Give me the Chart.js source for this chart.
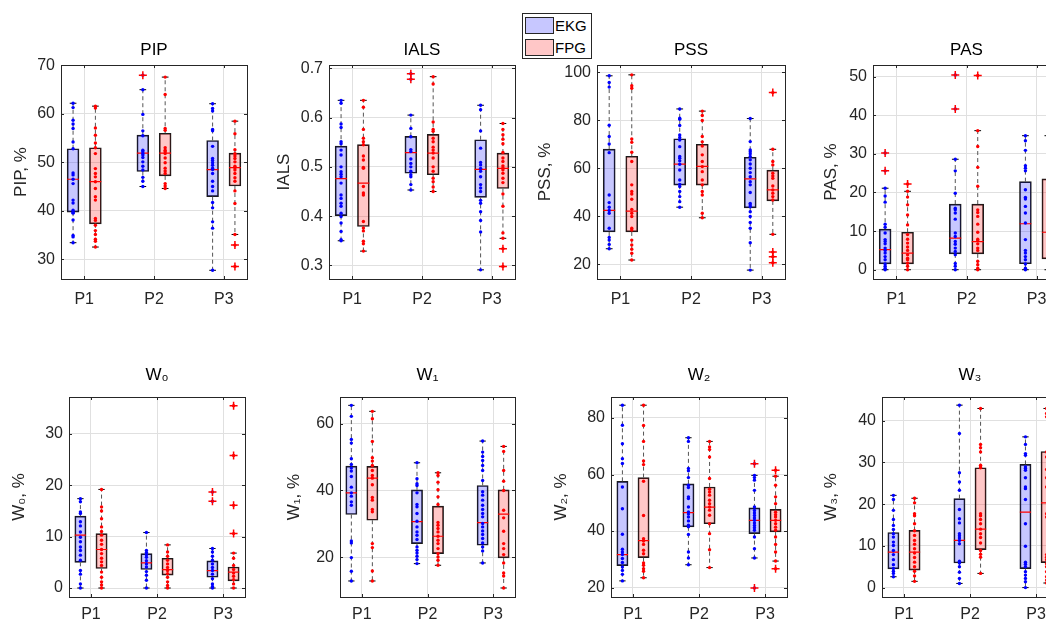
<!DOCTYPE html>
<html>
<head>
<meta charset="utf-8">
<script src="https://cdn.jsdelivr.net/npm/chart.js"></script>
<style>
  body { margin: 0; width: 1046px; height: 619px; overflow: hidden; background: #fff; position: relative;
         font-family: "Liberation Sans", Arial, sans-serif; }
  canvas { position: absolute; }
  #legend { position: absolute; left: 522px; top: 13px; width: 68px; height: 44px; border: 1px solid #262626; background: #fff; z-index: 2; }
  #legend .patch { position: absolute; left: 2px; width: 27px; height: 15px; border: 1px solid #262626; }
  #legend .label { position: absolute; left: 32px; font-size: 15px; line-height: 17px; color: #000; }
</style>
</head>
<body>
<div id="legend">
  <span class="patch" style="top:3px; background:rgba(0,0,255,0.22)"></span><span class="label" style="top:3px">EKG</span>
  <span class="patch" style="top:25px; background:rgba(255,0,0,0.22)"></span><span class="label" style="top:25px">FPG</span>
</div>
<script>
const categories = ['P1', 'P2', 'P3'];

// box stats per period: [lower whisker, Q1, median, Q3, upper whisker]
// PIP
const pipTicks = [30, 40, 50, 60, 70];
const pipEkgBox = [[33.4, 39.7, 46.5, 52.8, 62.2], [45.0, 48.1, 51.9, 55.6, 65.0], [27.7, 42.9, 48.5, 54.5, 62.1]];
const pipEkgOut = [[], [68.0], []];
const pipEkgPts = [
  [62.2, 61.3, 58.7, 57.9, 57.0, 54.2, 52.8, 47.8, 47.4, 46.5, 45.6, 42.2, 41.6, 40.1, 39.7, 39.5, 38.1, 34.9, 34.6, 33.4],
  [68.0, 65.0, 59.9, 56.5, 55.5, 52.5, 52.2, 51.8, 51.5, 51.0, 50.1, 49.2, 48.4, 46.9, 46.1, 45.0],
  [62.1, 61.1, 60.6, 56.8, 56.5, 53.3, 50.8, 50.4, 49.9, 49.4, 48.8, 48.5, 47.7, 46.1, 45.0, 44.1, 41.7, 40.6, 37.7, 36.4, 27.7]];
const pipFpgBox = [[32.5, 37.3, 46.0, 53.0, 61.6], [44.6, 47.2, 51.9, 56.0, 67.6], [35.1, 45.1, 48.9, 51.9, 58.5]];
const pipFpgOut = [[], [], [32.9, 28.5]];
const pipFpgPts = [
  [61.6, 61.2, 57.1, 55.6, 54.0, 53.0, 51.8, 48.7, 47.7, 47.0, 46.0, 44.6, 42.9, 42.2, 38.4, 38.0, 37.0, 35.9, 35.1, 34.1, 33.7, 32.5],
  [67.6, 64.0, 57.0, 56.6, 53.0, 52.5, 52.2, 51.8, 50.9, 49.9, 48.8, 48.2, 47.7, 45.6, 45.1, 44.6],
  [58.5, 55.9, 52.6, 51.8, 51.3, 50.8, 50.1, 49.2, 48.9, 48.4, 47.7, 46.8, 46.1, 44.1, 41.5, 35.1, 32.9, 28.5]];

// IALS
const ialsTicks = [0.3, 0.4, 0.5, 0.6, 0.7];
const ialsEkgBox = [[0.350, 0.401, 0.476, 0.542, 0.635], [0.453, 0.487, 0.529, 0.562, 0.605], [0.291, 0.438, 0.495, 0.555, 0.625]];
const ialsEkgOut = [[], [0.689, 0.678], []];
const ialsEkgPts = [
  [0.635, 0.629, 0.587, 0.580, 0.551, 0.547, 0.534, 0.524, 0.500, 0.490, 0.485, 0.480, 0.467, 0.443, 0.436, 0.426, 0.420, 0.406, 0.399, 0.386, 0.369, 0.352, 0.350],
  [0.689, 0.678, 0.605, 0.578, 0.561, 0.535, 0.531, 0.516, 0.507, 0.500, 0.491, 0.484, 0.480, 0.464, 0.453],
  [0.625, 0.616, 0.573, 0.538, 0.509, 0.504, 0.497, 0.491, 0.480, 0.464, 0.457, 0.450, 0.432, 0.426, 0.409, 0.391, 0.368, 0.291]];
const ialsFpgBox = [[0.329, 0.379, 0.467, 0.545, 0.635], [0.450, 0.484, 0.528, 0.566, 0.683], [0.355, 0.456, 0.497, 0.528, 0.588]];
const ialsFpgOut = [[], [], [0.334, 0.298]];
const ialsFpgPts = [
  [0.635, 0.621, 0.576, 0.558, 0.551, 0.545, 0.522, 0.514, 0.499, 0.497, 0.460, 0.447, 0.443, 0.389, 0.376, 0.370, 0.349, 0.344, 0.329],
  [0.683, 0.668, 0.591, 0.576, 0.572, 0.558, 0.551, 0.540, 0.534, 0.528, 0.518, 0.500, 0.491, 0.477, 0.470, 0.459, 0.450],
  [0.588, 0.576, 0.565, 0.556, 0.547, 0.529, 0.518, 0.511, 0.502, 0.498, 0.494, 0.487, 0.477, 0.468, 0.445, 0.420, 0.366, 0.355, 0.334, 0.298]];

// PSS
const pssTicks = [20, 40, 60, 80, 100];
const pssEkgBox = [[26.5, 33.5, 42.5, 68.0, 98.5], [43.8, 53.0, 61.7, 72.3, 84.7], [17.6, 43.5, 55.6, 64.6, 80.7]];
const pssEkgOut = [[], [], []];
const pssEkgPts = [
  [98.5, 95.7, 93.8, 77.9, 73.2, 70.1, 66.5, 48.9, 45.7, 43.8, 42.4, 41.3, 35.0, 31.2, 30.1, 28.3, 26.5],
  [84.7, 80.8, 80.4, 77.8, 73.9, 72.8, 71.8, 69.0, 64.9, 64.2, 63.1, 61.7, 59.3, 55.1, 53.3, 52.4, 50.3, 48.2, 46.1, 43.8],
  [80.7, 71.1, 67.6, 66.9, 66.0, 64.9, 63.5, 61.8, 60.0, 58.2, 56.5, 54.4, 53.1, 49.9, 45.4, 44.7, 44.0, 41.9, 39.9, 37.4, 35.0, 29.0, 17.6]];
const pssFpgBox = [[21.8, 33.5, 42.2, 65.0, 98.9], [39.4, 53.0, 60.8, 70.0, 83.8], [32.5, 46.4, 51.0, 59.2, 67.9]];
const pssFpgOut = [[], [], [91.5, 25.1, 23.2, 20.7]];
const pssFpgPts = [
  [98.9, 94.4, 93.3, 72.2, 70.8, 66.7, 62.8, 53.1, 50.3, 49.3, 47.1, 42.9, 41.3, 39.9, 35.0, 34.3, 30.1, 28.1, 26.3, 24.6, 21.8],
  [83.8, 82.0, 79.9, 73.2, 71.0, 69.3, 65.6, 62.8, 60.7, 58.6, 55.1, 53.1, 50.3, 48.9, 41.3, 39.4],
  [91.5, 67.9, 62.8, 61.4, 57.9, 56.8, 55.8, 52.6, 51.0, 49.6, 48.2, 46.8, 32.5, 25.1, 23.2, 20.7]];

// PAS
const pasTicks = [0, 10, 20, 30, 40, 50];
const pasEkgBox = [[0, 1.5, 5.2, 10.5, 21.1], [0, 4.1, 8.2, 17.0, 28.6], [0, 1.55, 11.9, 22.8, 34.7]];
const pasEkgOut = [[30.2, 25.6], [50.4, 41.6], []];
const pasEkgPts = [
  [30.2, 25.6, 21.1, 19.1, 17.5, 11.8, 11.0, 9.5, 7.8, 7.3, 6.7, 5.6, 5.0, 4.3, 3.4, 2.6, 1.5, 0.9, 0.4, 0],
  [50.4, 41.6, 28.6, 25.6, 19.8, 15.9, 15.5, 14.7, 13.1, 9.5, 8.6, 7.3, 6.6, 5.6, 4.7, 3.9, 1.6, 0.9, 0],
  [34.7, 33.4, 30.9, 26.9, 26.3, 25.6, 20.7, 18.7, 18.3, 16.4, 14.7, 12.1, 7.8, 5.0, 4.3, 3.4, 2.6, 1.5, 0.4, 0]];
const pasFpgBox = [[0, 1.5, 4.3, 9.7, 20.3], [0, 4.1, 7.3, 17.0, 36.0], [0, 2.8, 9.7, 23.5, 34.7]];
const pasFpgOut = [[22.2], [50.3], []];
const pasFpgPts = [
  [22.2, 20.3, 18.8, 16.8, 14.2, 11.6, 9.1, 7.9, 6.9, 5.9, 5.0, 3.9, 3.0, 2.6, 1.7, 0.9, 0],
  [50.3, 36.0, 31.9, 26.5, 21.6, 15.5, 14.8, 13.8, 11.8, 9.7, 7.9, 7.5, 6.7, 5.6, 5.0, 2.2, 1.3, 0.4, 0],
  [34.7, 32.8, 31.7, 27.4, 25.9, 24.1, 22.4, 20.7, 17.7, 10.8, 9.9, 8.6, 7.3, 4.9, 4.3, 3.4, 2.2, 0.9, 0]];

// W0
const w0Ticks = [0, 10, 20, 30];
const w0EkgBox = [[0, 5.0, 10.3, 14.0, 17.4], [0, 3.6, 4.9, 6.7, 10.8], [0, 2.1, 3.4, 5.3, 7.7]];
const w0EkgOut = [[], [], [18.7, 16.9]];
const w0EkgPts = [
  [17.4, 16.8, 14.8, 14.5, 12.9, 12.1, 10.9, 9.9, 9.0, 8.0, 7.3, 6.4, 5.4, 3.4, 2.7, 0.8, 0],
  [10.8, 7.3, 6.9, 6.5, 6.0, 5.3, 4.7, 4.1, 3.2, 2.5, 1.5, 0],
  [18.7, 16.9, 7.7, 7.0, 6.2, 5.4, 4.7, 4.0, 3.4, 2.7, 1.8, 0.8, 0.3, 0]];
const w0FpgBox = [[0, 3.8, 7.5, 10.6, 19.2], [0, 2.5, 3.6, 5.8, 8.4], [0, 1.4, 3.1, 4.1, 6.8]];
const w0FpgOut = [[], [], [35.5, 25.8, 16.1, 10.6]];
const w0FpgPts = [
  [19.2, 15.8, 15.0, 13.5, 11.9, 11.0, 10.3, 9.3, 8.5, 7.5, 6.7, 5.8, 5.1, 4.4, 3.1, 2.1, 1.2, 0.6, 0],
  [8.4, 7.0, 6.2, 5.4, 4.7, 4.0, 3.4, 2.8, 2.1, 1.2, 0.5, 0],
  [35.5, 25.8, 16.1, 10.6, 6.8, 5.8, 4.4, 3.6, 2.9, 2.3, 1.6, 0.8, 0]];

// W1
const w1Ticks = [20, 40, 60];
const w1EkgBox = [[12.9, 32.8, 39.3, 47.3, 65.5], [18.1, 24.1, 30.7, 40.2, 48.3], [18.3, 23.6, 30.4, 41.5, 54.8]];
const w1EkgOut = [[], [], []];
const w1EkgPts = [
  [65.5, 62.2, 55.3, 54.2, 49.5, 47.8, 46.7, 45.8, 44.2, 41.0, 39.3, 38.3, 36.6, 35.6, 24.9, 24.3, 19.9, 15.8, 12.9],
  [48.3, 43.5, 42.0, 41.5, 39.3, 35.8, 35.1, 33.1, 30.8, 29.1, 27.6, 26.6, 25.3, 23.1, 22.1, 21.3, 20.3, 19.3, 18.1],
  [54.8, 51.5, 50.2, 49.0, 47.5, 46.0, 43.0, 39.6, 38.6, 37.1, 35.6, 34.3, 33.1, 32.1, 30.1, 29.1, 27.9, 26.8, 25.6, 24.3, 23.1, 21.9, 18.3]];
const w1FpgBox = [[12.9, 31.1, 43.7, 47.2, 63.7], [17.6, 21.1, 26.3, 35.3, 45.3], [10.8, 19.8, 32.9, 40.2, 53.2]];
const w1FpgOut = [[], [], []];
const w1FpgPts = [
  [63.7, 61.5, 54.7, 49.8, 48.8, 47.5, 46.0, 44.5, 43.7, 41.7, 37.9, 37.1, 34.3, 33.6, 24.1, 22.9, 15.9, 12.9],
  [45.3, 44.5, 42.5, 40.2, 38.1, 35.8, 30.4, 29.6, 28.6, 27.6, 26.3, 25.1, 24.1, 22.6, 21.1, 20.1, 19.1, 17.6],
  [53.2, 51.7, 46.0, 42.8, 40.0, 34.1, 31.8, 27.8, 24.1, 22.6, 20.8, 18.3, 15.3, 14.4, 10.8]];

// W2
const w2Ticks = [20, 40, 60, 80];
const w2EkgBox = [[22.4, 27.8, 31.7, 57.6, 84.5], [28.1, 41.5, 46.5, 56.7, 73.0], [30.5, 39.1, 43.8, 48.2, 59.7]];
const w2EkgOut = [[], [], [63.8, 19.9]];
const w2EkgPts = [
  [84.5, 77.4, 70.9, 65.6, 63.9, 55.6, 47.9, 38.9, 33.6, 32.6, 31.7, 30.3, 28.9, 27.3, 26.1, 24.7, 22.4],
  [73.0, 71.7, 62.1, 61.3, 58.9, 56.2, 55.4, 52.1, 51.5, 48.5, 46.8, 46.0, 45.0, 43.6, 42.1, 41.5, 38.8, 32.6, 30.5, 28.1],
  [63.8, 59.7, 58.9, 58.0, 54.4, 48.5, 47.3, 46.4, 45.5, 44.6, 43.8, 42.9, 42.0, 41.2, 40.3, 37.9, 33.8, 30.5, 19.9]];
const w2FpgBox = [[23.5, 30.6, 36.6, 58.9, 84.5], [27.1, 42.6, 48.5, 55.6, 71.7], [29.4, 39.7, 43.8, 47.7, 59.4]];
const w2FpgOut = [[], [], [61.5, 26.7]];
const w2FpgPts = [
  [84.5, 77.3, 71.7, 64.8, 63.5, 57.6, 45.5, 37.3, 36.5, 35.3, 33.2, 32.0, 28.7, 27.9, 26.7, 25.8, 23.5],
  [71.7, 69.7, 68.8, 66.2, 58.6, 54.8, 53.8, 52.7, 50.9, 49.7, 48.5, 47.4, 45.6, 42.6, 39.1, 33.4, 27.1],
  [61.5, 59.4, 56.2, 52.1, 49.7, 46.7, 45.8, 45.0, 43.8, 42.6, 41.4, 40.3, 37.9, 35.3, 32.6, 29.4, 26.7]];

// W3
const w3Ticks = [0, 10, 20, 30, 40];
const w3EkgBox = [[2.6, 4.5, 8.5, 13.2, 22.1], [1.0, 5.9, 11.3, 21.3, 43.7], [0, 4.55, 18.1, 29.5, 36.1]];
const w3EkgOut = [[], [], []];
const w3EkgPts = [
  [22.1, 21.1, 18.5, 16.3, 14.9, 13.9, 12.9, 12.1, 10.9, 10.1, 8.9, 7.9, 6.7, 5.5, 4.6, 3.9, 3.4, 2.6],
  [43.7, 36.9, 27.5, 25.3, 23.3, 18.7, 16.5, 15.5, 12.9, 12.4, 11.9, 11.3, 10.5, 6.3, 5.9, 5.0, 3.7, 2.2, 1.0],
  [36.1, 34.3, 32.1, 31.7, 28.9, 28.5, 28.1, 26.3, 24.1, 23.7, 21.1, 15.3, 9.9, 6.1, 5.6, 5.0, 3.8, 3.0, 2.2, 1.4, 0]];
const w3FpgBox = [[1.5, 4.2, 8.5, 13.7, 21.4], [3.4, 9.1, 14.0, 28.7, 42.9], [1.1, 6.0, 20.3, 32.6, 42.9]];
const w3FpgOut = [[], [], []];
const w3FpgPts = [
  [21.4, 20.3, 17.7, 17.2, 15.3, 13.6, 12.5, 11.3, 10.4, 9.3, 8.3, 7.2, 6.1, 5.0, 3.9, 2.8, 1.5],
  [42.9, 34.3, 33.5, 32.5, 29.3, 28.9, 28.7, 17.7, 17.2, 16.3, 15.3, 14.0, 12.9, 12.0, 10.7, 8.9, 8.0, 7.3, 3.4],
  [42.9, 41.7, 40.9, 32.5, 31.3, 28.3, 26.3, 24.1, 17.7, 16.9, 7.9, 7.3, 6.7, 5.7, 5.0, 3.8, 2.6, 1.8, 1.1]];

const panels = [
  { title: 'PIP', ylabel: 'PIP, %', ticks: pipTicks, digits: 0, ekg: [pipEkgBox, pipEkgOut, pipEkgPts], fpg: [pipFpgBox, pipFpgOut, pipFpgPts] },
  { title: 'IALS', ylabel: 'IALS', ticks: ialsTicks, digits: 1, ekg: [ialsEkgBox, ialsEkgOut, ialsEkgPts], fpg: [ialsFpgBox, ialsFpgOut, ialsFpgPts] },
  { title: 'PSS', ylabel: 'PSS, %', ticks: pssTicks, digits: 0, ekg: [pssEkgBox, pssEkgOut, pssEkgPts], fpg: [pssFpgBox, pssFpgOut, pssFpgPts] },
  { title: 'PAS', ylabel: 'PAS, %', ticks: pasTicks, digits: 0, ekg: [pasEkgBox, pasEkgOut, pasEkgPts], fpg: [pasFpgBox, pasFpgOut, pasFpgPts] },
  { title: 'W\u2080', ylabel: 'W\u2080, %', ticks: w0Ticks, digits: 0, ekg: [w0EkgBox, w0EkgOut, w0EkgPts], fpg: [w0FpgBox, w0FpgOut, w0FpgPts] },
  { title: 'W\u2081', ylabel: 'W\u2081, %', ticks: w1Ticks, digits: 0, ekg: [w1EkgBox, w1EkgOut, w1EkgPts], fpg: [w1FpgBox, w1FpgOut, w1FpgPts] },
  { title: 'W\u2082', ylabel: 'W\u2082, %', ticks: w2Ticks, digits: 0, ekg: [w2EkgBox, w2EkgOut, w2EkgPts], fpg: [w2FpgBox, w2FpgOut, w2FpgPts] },
  { title: 'W\u2083', ylabel: 'W\u2083, %', ticks: w3Ticks, digits: 0, ekg: [w3EkgBox, w3EkgOut, w3EkgPts], fpg: [w3FpgBox, w3FpgOut, w3FpgPts] }
];

// plot-area rectangles, axis limits and y-label centre as measured on the figure
const layout = [
  { left: 60.7, top: 65, width: 186, height: 214.3, yMin: 25.9, yMax: 70.1, labelX: 20.7, row: 0 },
  { left: 329.3, top: 65, width: 186.4, height: 214.3, yMin: 0.2724, yMax: 0.7067, labelX: 285, row: 0 },
  { left: 597.3, top: 65, width: 188, height: 214.3, yMin: 13.9, yMax: 103, labelX: 546, row: 0 },
  { left: 872.7, top: 65, width: 186.5, height: 214.3, yMin: -2.4, yMax: 53, labelX: 830.7, row: 0 },
  { left: 69.3, top: 396.7, width: 176.4, height: 200, yMin: -1.75, yMax: 37.2, labelX: 20, row: 1 },
  { left: 340.3, top: 396.7, width: 175.4, height: 200, yMin: 8.1, yMax: 68, labelX: 295, row: 1 },
  { left: 610.7, top: 396.7, width: 176, height: 200, yMin: 16.7, yMax: 87.4, labelX: 560.7, row: 1 },
  { left: 881.7, top: 396.7, width: 176, height: 200, yMin: -2.25, yMax: 45.65, labelX: 830.7, row: 1 }
];

const X_MIN = 0.667, X_MAX = 3.333;
const OFFSET = 0.16, HALF = 0.085, CAP = 0.048;
const ML = 70, MT = 45, MR = 10, MB = 35;
const FONT = '"Liberation Sans", Arial, sans-serif';
const AXIS = '#262626';

const frame = {
  id: 'frame',
  afterDatasetsDraw(chart) {
    const { ctx, chartArea: a, scales: { x, y } } = chart;
    ctx.save();
    ctx.strokeStyle = AXIS;
    ctx.lineWidth = 1;
    ctx.strokeRect(Math.round(a.left) + 0.5, Math.round(a.top) + 0.5,
      Math.round(a.right - a.left), Math.round(a.bottom - a.top));
    ctx.beginPath();
    y.ticks.forEach(t => {
      const p = Math.round(y.getPixelForValue(t.value)) + 0.5;
      ctx.moveTo(a.left, p); ctx.lineTo(a.left + 3, p);
      ctx.moveTo(a.right, p); ctx.lineTo(a.right - 3, p);
    });
    x.ticks.forEach(t => {
      const p = Math.round(x.getPixelForValue(t.value)) + 0.5;
      ctx.moveTo(p, a.bottom); ctx.lineTo(p, a.bottom - 3);
      ctx.moveTo(p, a.top); ctx.lineTo(p, a.top + 3);
    });
    ctx.stroke();
    ctx.restore();
  }
};

function boxDatasets([box, out, pts], off, fill, dot, barPx) {
  const xs = box.map((b, i) => i + 1 + off);
  const gap = x => ({ x, y: null });
  return [
    {
      type: 'bar', order: 5, grouped: false, barThickness: barPx,
      data: box.map((b, i) => ({ x: xs[i], y: [b[1], b[3]] })),
      backgroundColor: fill, borderColor: '#1a1a1a', borderWidth: 1, borderSkipped: false
    },
    {
      type: 'line', order: 4, pointRadius: 0, borderColor: '#555', borderWidth: 1, borderDash: [4, 3],
      data: box.flatMap((b, i) => [{ x: xs[i], y: b[3] }, { x: xs[i], y: b[4] }, gap(xs[i]),
        { x: xs[i], y: b[1] }, { x: xs[i], y: b[0] }, gap(xs[i])])
    },
    {
      type: 'line', order: 3, pointRadius: 0, borderColor: '#000', borderWidth: 1,
      data: box.flatMap((b, i) => [{ x: xs[i] - CAP, y: b[4] }, { x: xs[i] + CAP, y: b[4] }, gap(xs[i]),
        { x: xs[i] - CAP, y: b[0] }, { x: xs[i] + CAP, y: b[0] }, gap(xs[i])])
    },
    {
      type: 'line', order: 2, pointRadius: 0, borderColor: '#ff0000', borderWidth: 1.2,
      data: box.flatMap((b, i) => [{ x: xs[i] - HALF, y: b[2] }, { x: xs[i] + HALF, y: b[2] }, gap(xs[i])])
    },
    {
      type: 'scatter', order: 1, pointRadius: 1.7, backgroundColor: dot, borderWidth: 0,
      data: pts.flatMap((arr, i) => arr.map(v => ({ x: xs[i], y: v })))
    },
    {
      type: 'scatter', order: 0, pointStyle: 'cross', pointRadius: 4, borderColor: '#ff0000', borderWidth: 1.5,
      data: out.flatMap((arr, i) => arr.map(v => ({ x: xs[i], y: v })))
    }
  ];
}

panels.forEach((p, k) => {
  const L = layout[k];
  const canvas = document.createElement('canvas');
  canvas.width = Math.round(L.width + ML + MR);
  canvas.height = Math.round(L.height + MT + MB);
  canvas.style.left = (L.left - ML) + 'px';
  canvas.style.top = (L.top - MT) + 'px';
  document.body.appendChild(canvas);

  const barPx = 2 * HALF * L.width / (X_MAX - X_MIN);
  const titleCenter = L.row === 0 ? 30 : 23;
  const titleLH = 17 * 1.2;
  const yTitleCenter = L.labelX - (L.left - ML);

  new Chart(canvas, {
    type: 'bar',
    data: {
      datasets: [
        ...boxDatasets(p.ekg, -OFFSET, 'rgba(0,0,255,0.22)', '#0000ff', barPx),
        ...boxDatasets(p.fpg, OFFSET, 'rgba(255,0,0,0.22)', '#ff0000', barPx)
      ]
    },
    options: {
      responsive: false,
      animation: false,
      events: [],
      layout: { padding: { left: 0, top: 0, right: MR, bottom: 0 } },
      plugins: {
        legend: { display: false },
        tooltip: { enabled: false },
        title: {
          display: true, text: p.title, color: '#000', fullSize: false,
          font: { family: FONT, size: 17, weight: 'normal', lineHeight: 1.2 },
          padding: { top: titleCenter - titleLH / 2, bottom: MT - titleCenter - titleLH / 2 }
        }
      },
      scales: {
        x: {
          type: 'linear', min: X_MIN, max: X_MAX, offset: false,
          afterBuildTicks: s => { s.ticks = categories.map((c, i) => ({ value: i + 1 })); },
          afterFit: s => { s.height = MB; },
          ticks: {
            callback: v => categories[Math.round(v) - 1],
            color: AXIS, padding: L.row === 0 ? 11 : 8, maxRotation: 0,
            font: { family: FONT, size: 16 }
          },
          grid: { color: '#e0e0e0', drawTicks: false, offset: false },
          border: { display: false }
        },
        y: {
          type: 'linear', min: L.yMin, max: L.yMax,
          afterBuildTicks: s => { s.ticks = p.ticks.map(v => ({ value: v })); },
          afterFit: s => { s.width = ML; },
          ticks: {
            callback: v => v.toFixed(p.digits),
            color: AXIS, padding: 6,
            font: { family: FONT, size: 16 }
          },
          grid: { color: '#e0e0e0', drawTicks: false },
          border: { display: false },
          title: {
            display: true, text: p.ylabel, color: AXIS,
            font: { family: FONT, size: 17, lineHeight: 1.2 },
            padding: { top: yTitleCenter - titleLH / 2, bottom: 0 }
          }
        }
      }
    },
    plugins: [frame]
  });
});
</script>
</body>
</html>
